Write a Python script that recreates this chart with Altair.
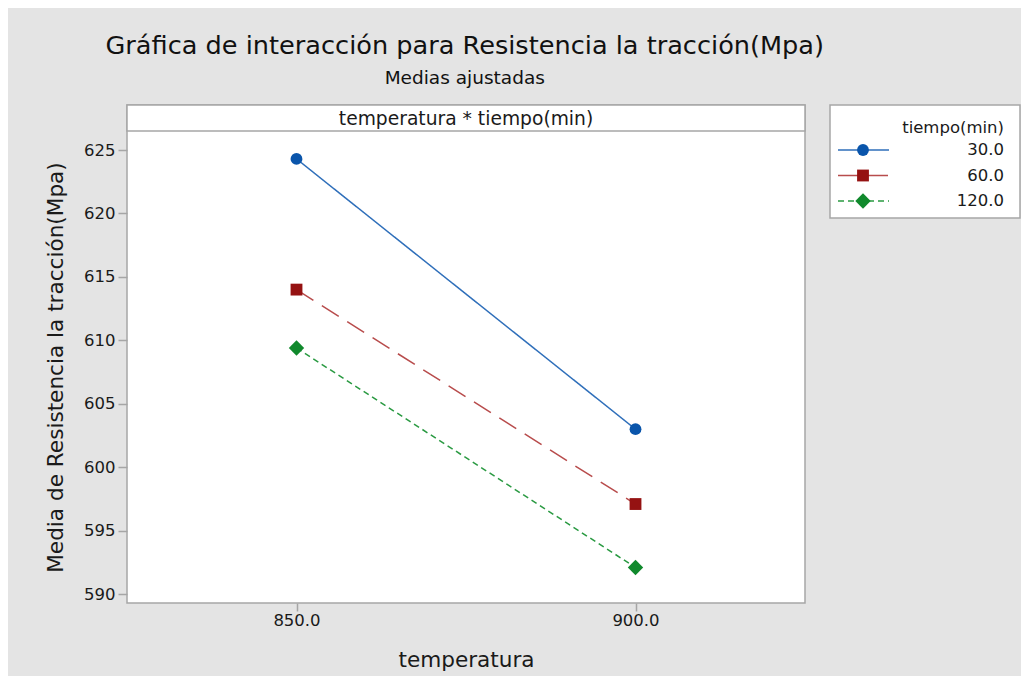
import altair as alt
import pandas as pd

temperatura = [850, 900]
tiempo = ["30.0", "60.0", "120.0"]
resistencia_30 = [624.3, 603.0]
resistencia_60 = [614.0, 597.1]
resistencia_120 = [609.4, 592.1]
panel_label = ["temperatura * tiempo(min)"]
legend_title = ["tiempo(min)"]

rows = []
for t, vals in zip(tiempo, [resistencia_30, resistencia_60, resistencia_120]):
    for temp, v in zip(temperatura, vals):
        rows.append({"temperatura": temp, "tiempo": t, "resistencia": v})
df = pd.DataFrame(rows)
legend_df = pd.DataFrame({"tiempo": tiempo, "orden": list(range(len(tiempo)))})
header_df = pd.DataFrame({"label": panel_label})
ltitle_df = pd.DataFrame({"label": legend_title})

FONT = "DejaVu Sans"
TXT = "#1a1a1a"
FRAME = "#a6a6a6"
line_colors = ["#2f6fba", "#b84c4c", "#2a9a42"]
point_colors = ["#0a55ab", "#951212", "#10892c"]
shapes = ["circle", "square", "M-1.3,0L0,-1.3L1.3,0L0,1.3Z"]
dashes = [[1, 0], [20, 10], [6, 4]]
MARK_SIZE = 140

W, H, HDR = 678, 498, 26

stroke_scale = alt.Scale(domain=tiempo, range=line_colors)
fill_scale = alt.Scale(domain=tiempo, range=point_colors)
shape_scale = alt.Scale(domain=tiempo, range=shapes)
dash_scale = alt.Scale(domain=tiempo, range=dashes)

x_enc = alt.X(
    "temperatura:Q",
    scale=alt.Scale(domain=[825, 925], nice=False, zero=False),
    axis=alt.Axis(values=temperatura, format=".1f", title="temperatura", grid=False,
                  domain=False, tickColor=FRAME, tickSize=8, tickWidth=1.5,
                  labelFontSize=16.5, titleFontSize=21.6, labelPadding=1, titlePadding=21,
                  labelColor=TXT, titleColor=TXT, labelFont=FONT, titleFont=FONT,
                  titleFontWeight="normal"),
)
y_enc = alt.Y(
    "resistencia:Q",
    scale=alt.Scale(domain=[589.3, 626.5], range=[H, HDR], nice=False, zero=False),
    axis=alt.Axis(values=[590, 595, 600, 605, 610, 615, 620, 625], format="d",
                  title="Media de Resistencia la tracción(Mpa)", grid=False,
                  domain=False, tickColor=FRAME, tickSize=9, tickWidth=1.5,
                  labelFontSize=16.5, titleFontSize=21.6, labelPadding=3, titlePadding=16,
                  labelColor=TXT, titleColor=TXT, labelFont=FONT, titleFont=FONT,
                  titleFontWeight="normal"),
)

lines = alt.Chart(df).mark_line(strokeWidth=1.5).encode(
    x=x_enc, y=y_enc,
    stroke=alt.Stroke("tiempo:N", scale=stroke_scale, legend=None),
    strokeDash=alt.StrokeDash("tiempo:N", scale=dash_scale, legend=None),
)
points = alt.Chart(df).mark_point(filled=True, opacity=1, strokeWidth=0, size=MARK_SIZE).encode(
    x="temperatura:Q", y="resistencia:Q",
    fill=alt.Fill("tiempo:N", scale=fill_scale, legend=None),
    shape=alt.Shape("tiempo:N", scale=shape_scale, legend=None),
)
header_box = alt.Chart(header_df).mark_rect(fill="white", stroke=FRAME, strokeWidth=1.5).encode(
    x=alt.value(0), x2=alt.value(W), y=alt.value(0), y2=alt.value(HDR)
)
header_text = alt.Chart(header_df).mark_text(font=FONT, fontSize=18.7, color=TXT, baseline="middle").encode(
    x=alt.value(W / 2), y=alt.value(HDR / 2 + 1), text="label:N"
)

main = alt.layer(header_box, lines, points, header_text).properties(width=W, height=H)

LW, LH = 190, 113
lg_y = alt.Y("orden:Q", scale=alt.Scale(domain=[0, len(tiempo) - 1], range=[45, 96], nice=False, zero=False), axis=None)
lg_rule = alt.Chart(legend_df).mark_rule(strokeWidth=1.5).encode(
    x=alt.value(8), x2=alt.value(59), y=lg_y,
    stroke=alt.Stroke("tiempo:N", scale=stroke_scale, legend=None),
    strokeDash=alt.StrokeDash("tiempo:N", scale=dash_scale, legend=None),
)
lg_pts = alt.Chart(legend_df).mark_point(filled=True, opacity=1, strokeWidth=0, size=MARK_SIZE).encode(
    x=alt.value(33), y=lg_y,
    fill=alt.Fill("tiempo:N", scale=fill_scale, legend=None),
    shape=alt.Shape("tiempo:N", scale=shape_scale, legend=None),
)
lg_txt = alt.Chart(legend_df).mark_text(font=FONT, fontSize=16.5, color=TXT, align="right", baseline="middle").encode(
    x=alt.value(174), y=lg_y, text="tiempo:N"
)
lg_title = alt.Chart(ltitle_df).mark_text(font=FONT, fontSize=16.5, color=TXT, align="right", baseline="middle").encode(
    x=alt.value(174), y=alt.value(23), text="label:N"
)
legend = alt.layer(lg_rule, lg_pts, lg_txt, lg_title).properties(width=LW, height=LH)

chart = alt.hconcat(main, legend, spacing=22).properties(
    title=alt.TitleParams(
        "Gráfica de interacción para Resistencia la tracción(Mpa)",
        subtitle="Medias ajustadas",
        font=FONT, fontSize=25.6, fontWeight="normal", color="#111111",
        subtitleFont=FONT, subtitleFontSize=18.5, subtitleColor="#111111", subtitlePadding=9,
        anchor="middle", dx=-68, offset=16,
    ),
    background="#e4e4e4",
    padding={"left": 36, "top": 26, "right": 0, "bottom": 4},
).configure_view(fill="white", stroke=FRAME, strokeWidth=1.5)

chart.save("out.html", embed_options={"renderer": "svg", "actions": False})
